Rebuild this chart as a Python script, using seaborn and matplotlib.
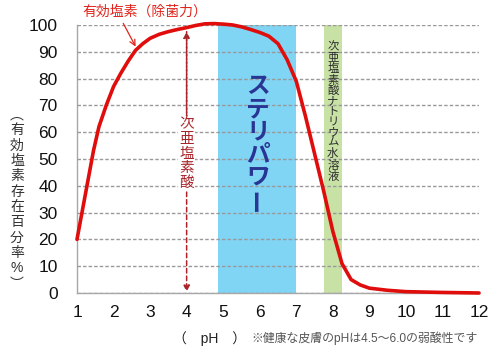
import numpy as np
import pandas as pd
import matplotlib
matplotlib.use("Agg")
import matplotlib.pyplot as plt
import seaborn as sns

# values
ph = [1.0, 1.15, 1.3, 1.45, 1.6, 1.8, 2.0, 2.2, 2.4, 2.6, 2.8, 3.0, 3.25, 3.5, 3.75,
      4.0, 4.25, 4.5, 4.75, 5.0, 5.25, 5.5, 5.75, 6.0, 6.25, 6.5, 6.75, 7.0, 7.25,
      7.5, 7.75, 8.0, 8.25, 8.5, 8.75, 9.0, 9.5, 10.0, 11.0, 12.0]
chlorine = [20, 31, 42, 53, 62, 70, 77, 82, 86.5, 90.5, 93, 95, 96.5, 97.5, 98.3,
            99, 99.8, 100.4, 100.5, 100.3, 100, 99.3, 98.3, 97.2, 95.8, 93, 87, 79, 66,
            52, 38, 23, 11, 5, 3, 1.8, 1.0, 0.5, 0.2, 0.0]

steri_band = (4.86, 7.0)
sodium_band = (7.75, 8.25)
x_ticks = list(range(1, 13))
y_ticks = list(range(0, 101, 10))

ylabel_chars = ["︵", "有", "効", "塩", "素", "存", "在", "百", "分", "率", "%", "︶"]
label_curve = "有効塩素（除菌力）"
label_hocl = "次亜塩素酸"
label_steri = "ステリパワ"
label_naocl = "次亜塩素酸ナトリウム水溶液"
note = "※健康な皮膚のpHは4.5～6.0の弱酸性です"

df = pd.DataFrame({"pH": ph, "chlorine": chlorine})

sns.set_style("white")
plt.rcParams["font.family"] = ["Liberation Sans", "Noto Sans CJK JP", "DejaVu Sans"]

fig = plt.figure(figsize=(5, 3.56), dpi=100)
ax = fig.add_axes([0.154, 0.177, 0.804, 0.753])

ax.axvspan(*steri_band, color="#80d4f4", lw=0, zorder=1)
ax.axvspan(*sodium_band, color="#c8e2a6", lw=0, zorder=1)

sns.lineplot(data=df, x="pH", y="chlorine", ax=ax, color="#e00d0d", lw=2.6,
             zorder=5, clip_on=False)

ax.set_xlim(1, 12)
ax.set_ylim(0, 100)
ax.set_yticks(y_ticks)
ax.set_xticks(x_ticks)

# dotted horizontal grid, drawn over the bands
ax.grid(axis="y", color="#999999", lw=1.0, ls=(0, (2.5, 1.5)), zorder=2)
ax.set_axisbelow(False)

ax.set_xlabel("")
ax.set_ylabel("")
for s in ["top", "right"]:
    ax.spines[s].set_visible(False)
for s in ["left", "bottom"]:
    ax.spines[s].set_color("#a8a8a8")
    ax.spines[s].set_linewidth(1.0)
ax.tick_params(axis="y", length=0, pad=14, labelsize=12.5, labelcolor="#111111")
ax.tick_params(axis="x", length=5, width=0.8, color="#a8a8a8", pad=4,
               labelsize=12.5, labelcolor="#111111", direction="out")

# curve label with pointer
ax.text(2.86, 105, label_curve, color="#e0241c", fontsize=10, ha="center",
        va="center", clip_on=False)
ax.annotate("", xy=(2.64, 91), xytext=(2.23, 101.5),
            arrowprops=dict(arrowstyle="->", color="#e0241c", lw=0.9), annotation_clip=False)

# dashed double arrow at pH 4
ax.annotate("", xy=(4.0, 0.4), xytext=(4.0, 97.5),
            arrowprops=dict(arrowstyle="-|>", color="#a8252b", lw=1.1, ls=(0, (3, 2)),
                            mutation_scale=9, shrinkA=0, shrinkB=0), zorder=3)
ax.annotate("", xy=(4.0, 97.5), xytext=(4.0, 60),
            arrowprops=dict(arrowstyle="-|>", color="#a8252b", lw=1.1, ls=(0, (3, 2)),
                            mutation_scale=9, shrinkA=0, shrinkB=0), zorder=3)
ax.text(4.0, 52, "\n".join(label_hocl), color="#a8252b", fontsize=10.5, ha="center",
        va="center", linespacing=1.05, zorder=4,
        bbox=dict(facecolor="white", edgecolor="none", pad=1))

ax.text(5.96, 60, "\n".join(label_steri), color="#283593",
        fontsize=17, fontweight="bold", ha="center", va="center", linespacing=0.98, zorder=4)
ax.text(5.96, 35, "ー", color="#283593", rotation=90,
        fontsize=17, fontweight="bold", ha="center", va="center", zorder=4)

ax.text(8.0, 67.5, "\n".join(label_naocl), color="#2a2a2a", fontsize=8.2,
        ha="center", va="center", linespacing=1.04, zorder=4)

fig.text(0.034, 0.44, "\n".join(ylabel_chars), color="#333333", fontsize=10,
         ha="center", va="center", linespacing=1.12)

fig.text(0.42, 0.05, "（　pH　）", color="#222222", fontsize=10, ha="center", va="center")
fig.text(0.503, 0.05, note, color="#555555", fontsize=8.6, ha="left", va="center")

fig.savefig("out.png", dpi=100)
